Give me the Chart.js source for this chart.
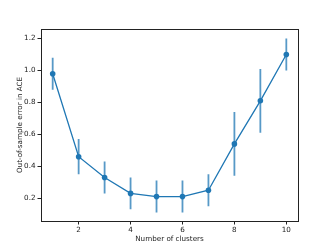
<!DOCTYPE html>
<html>
<head>
<meta charset="utf-8">
<script src="https://cdn.jsdelivr.net/npm/chart.js@4"></script>
<style>
  html, body { margin: 0; padding: 0; background: #fff; }
  #wrap { width: 332px; height: 249px; }
</style>
</head>
<body>
<div id="wrap"><canvas id="grafico" width="332" height="249"></canvas></div>
<script>
// datos
const clusters = [1, 2, 3, 4, 5, 6, 7, 8, 9, 10]
const errorACE = [0.98, 0.46, 0.33, 0.23, 0.21, 0.21, 0.25, 0.54, 0.81, 1.10]
const desviacion = [0.10, 0.11, 0.10, 0.10, 0.10, 0.10, 0.10, 0.20, 0.20, 0.10]
const xTicks = [2, 4, 6, 8, 10]
const yTicks = [0.2, 0.4, 0.6, 0.8, 1.0, 1.2]

const azul = '#1f77b4'
const fuente = { family: 'DejaVu Sans', size: 7.2 }

// segmentos verticales de las barras de error, separados por null
const barrasError = []
clusters.forEach((c, i) => {
    barrasError.push({ x: c, y: errorACE[i] - desviacion[i] })
    barrasError.push({ x: c, y: errorACE[i] + desviacion[i] })
    barrasError.push({ x: c, y: null })
})

const puntos = clusters.map((c, i) => ({ x: c, y: errorACE[i] }))

// marco completo como en matplotlib
const marco = {
    id: 'marco',
    afterDraw(chart) {
        const { ctx, chartArea: a } = chart
        ctx.save()
        ctx.strokeStyle = '#222'
        ctx.lineWidth = 1
        ctx.strokeRect(Math.round(a.left) + 0.5, Math.round(a.top) + 0.5,
            Math.round(a.right - a.left), Math.round(a.bottom - a.top))
        ctx.restore()
    }
}

new Chart(document.getElementById('grafico'), {
    type: 'line',
    data: {
        datasets: [
            {
                data: barrasError,
                borderColor: 'rgba(31,119,180,0.75)',
                borderWidth: 1.8,
                pointRadius: 0,
                spanGaps: false,
                order: 2
            },
            {
                data: puntos,
                borderColor: azul,
                backgroundColor: azul,
                borderWidth: 1.3,
                pointRadius: 2.8,
                pointBorderWidth: 0,
                order: 1
            }
        ]
    },
    options: {
        responsive: false,
        animation: false,
        layout: { padding: { left: 0, right: 34, top: 29, bottom: 0 } },
        plugins: { legend: { display: false }, tooltip: { enabled: false } },
        scales: {
            x: {
                type: 'linear',
                min: 0.55,
                max: 10.45,
                afterBuildTicks: s => { s.ticks = xTicks.map(v => ({ value: v })) },
                afterFit: s => { s.height = 28 },
                grid: { drawOnChartArea: false, tickLength: 3.5, color: '#222' },
                border: { display: false },
                ticks: { font: fuente, color: '#222', padding: 1, maxRotation: 0 },
                title: { display: true, text: 'Number of clusters', font: fuente, color: '#222', padding: { top: 0, bottom: 5.5 } }
            },
            y: {
                min: 0.057,
                max: 1.26,
                afterBuildTicks: s => { s.ticks = yTicks.map(v => ({ value: v })) },
                afterFit: s => { s.width = 41 },
                grid: { drawOnChartArea: false, tickLength: 3.5, color: '#222' },
                border: { display: false },
                ticks: { font: fuente, color: '#222', padding: 2, callback: v => v.toFixed(1) },
                title: { display: true, text: 'Out-of-sample error in ACE', font: fuente, color: '#222', padding: { top: 15.5, bottom: 0 } }
            }
        }
    },
    plugins: [marco]
})
</script>
</body>
</html>
